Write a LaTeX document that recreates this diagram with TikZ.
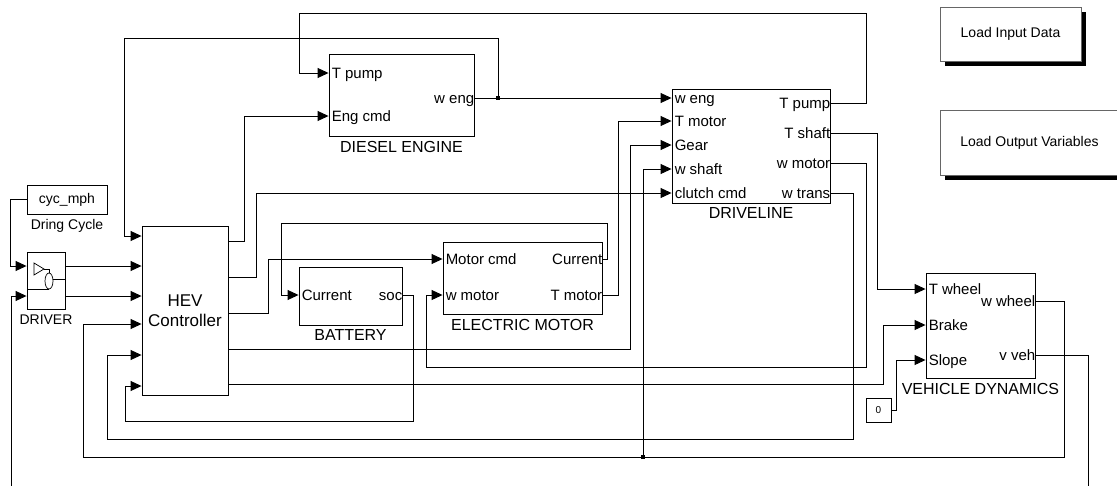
\documentclass[tikz,border=0pt]{standalone}
\usepackage{fontspec}
\setmainfont{Liberation Sans}
\usepackage{tikz}
\usetikzlibrary{positioning, arrows.meta}

\begin{document}
\begin{tikzpicture}[
  x=1pt, y=-1pt,
  block/.style={draw, line width=0.9pt, inner sep=0pt},
  caption/.style={inner sep=0pt, font=\fontsize{16}{18}\selectfont},
  inlab/.style={anchor=west, inner sep=0pt, xshift=3pt, text height=10.7pt,
    text depth=0pt, font=\fontsize{15}{17}\selectfont},
  outlab/.style={inlab, anchor=east, xshift=-3pt},
  wire/.style={line width=0.9pt},
  flow/.style={wire, -{Triangle[length=11pt, width=10pt]}},
  loadbox/.style={draw=black!60, fill=white, line width=0.6pt, inner sep=0pt,
    font=\fontsize{14}{16}\selectfont},
  tap/.style={fill, inner sep=0pt, minimum size=4pt},
]
  \useasboundingbox (0,0) rectangle (1117,485);

  % Drive cycle source and driver
  \node[block, minimum width=80pt, minimum height=29pt,
    font=\fontsize{14}{16}\selectfont] (cyc) at (67,199.5) {cyc\_mph};
  \node[caption, font=\fontsize{14}{16}\selectfont, below=5pt of cyc] (cyc-cap) {Dring Cycle};
  \node[block, minimum width=38pt, minimum height=57pt] (drv) at (46,280.5) {};
  \node[caption, font=\fontsize{14}{16}\selectfont, below=5pt of drv] (drv-cap) {DRIVER};
  \draw[line width=0.7pt] (34,263) -- (44,269) -- (34,275) -- cycle;
  \draw[line width=0.7pt] (44,269) -- (49,269) -- (49,273);
  \draw[line width=0.7pt] (49,281) ellipse (4 and 8);
  \draw[line width=0.7pt] (53,279) -- (65,279);
  \draw[line width=0.7pt] (27,289) -- (49,289);

  % Controller
  \node[block, minimum width=86pt, minimum height=169pt, align=center,
    font=\fontsize{17}{20}\selectfont] (hev) at (185,310.5) {HEV\\Controller};

  % Diesel engine
  \node[block, minimum width=145pt, minimum height=82pt] (eng) at (401.5,95) {};
  \node[caption, below=5pt of eng] (eng-cap) {DIESEL ENGINE};

  % Battery and electric motor
  \node[block, minimum width=103pt, minimum height=58pt] (bat) at (350.5,296) {};
  \node[caption, below=4pt of bat] (bat-cap) {BATTERY};
  \node[block, minimum width=159pt, minimum height=72pt] (mot) at (522.5,278) {};
  \node[caption, below=5pt of mot] (mot-cap) {ELECTRIC MOTOR};

  % Driveline
  \node[block, minimum width=158pt, minimum height=114pt] (dl) at (751,146) {};
  \node[caption, below=4pt of dl] (dl-cap) {DRIVELINE};

  % Vehicle dynamics
  \node[block, minimum width=109pt, minimum height=105pt] (veh) at (980.5,325.5) {};
  \node[caption, below=5pt of veh] (veh-cap) {VEHICLE DYNAMICS};
  \node[block, minimum width=25pt, minimum height=24pt,
    font=\fontsize{10}{12}\selectfont] (zero) at (878.5,410) {0};

  % Script buttons, solid shadow first
  \fill (945,12) rectangle (1086,66);
  \fill (945,115) rectangle (1124,180);
  \node[loadbox, minimum width=141pt, minimum height=54pt] (lin) at (1010.5,34) {Load Input Data};
  \node[loadbox, minimum width=179pt, minimum height=65pt] (lout) at (1029.5,142.5) {Load Output Variables};

  % Ports
  \coordinate (drv-in1) at (drv.west |- 0,266);  \coordinate (drv-in2) at (drv.west |- 0,296);
  \coordinate (drv-out1) at (drv.east |- 0,266); \coordinate (drv-out2) at (drv.east |- 0,296);
  \coordinate (hev-in1) at (hev.west |- 0,236);  \coordinate (hev-in2) at (hev.west |- 0,266);
  \coordinate (hev-in3) at (hev.west |- 0,296);  \coordinate (hev-in4) at (hev.west |- 0,324);
  \coordinate (hev-in5) at (hev.west |- 0,355);  \coordinate (hev-in6) at (hev.west |- 0,386);
  \coordinate (hev-out1) at (hev.east |- 0,241); \coordinate (hev-out2) at (hev.east |- 0,277);
  \coordinate (hev-out3) at (hev.east |- 0,313); \coordinate (hev-out4) at (hev.east |- 0,349);
  \coordinate (hev-out5) at (hev.east |- 0,384);
  \coordinate (eng-tp) at (eng.west |- 0,73);    \coordinate (eng-ec) at (eng.west |- 0,116);
  \coordinate (eng-we) at (eng.east |- 0,98);
  \coordinate (dl-we) at (dl.west |- 0,98);      \coordinate (dl-tm) at (dl.west |- 0,121);
  \coordinate (dl-ge) at (dl.west |- 0,145);     \coordinate (dl-ws) at (dl.west |- 0,169);
  \coordinate (dl-cc) at (dl.west |- 0,193);
  \coordinate (dl-tpo) at (dl.east |- 0,103);    \coordinate (dl-ts) at (dl.east |- 0,133);
  \coordinate (dl-wm) at (dl.east |- 0,163);     \coordinate (dl-wt) at (dl.east |- 0,193);
  \coordinate (mot-mc) at (mot.west |- 0,259);   \coordinate (mot-wm) at (mot.west |- 0,295);
  \coordinate (mot-cu) at (mot.east |- 0,259);   \coordinate (mot-tm) at (mot.east |- 0,295);
  \coordinate (bat-cu) at (bat.west |- 0,295);   \coordinate (bat-soc) at (bat.east |- 0,295);
  \coordinate (veh-tw) at (veh.west |- 0,289);   \coordinate (veh-br) at (veh.west |- 0,325);
  \coordinate (veh-sl) at (veh.west |- 0,360);
  \coordinate (veh-ww) at (veh.east |- 0,301);   \coordinate (veh-vv) at (veh.east |- 0,355);

  % Port labels
  \node[inlab] (eng-tp-l) at (eng-tp) {T pump};
  \node[inlab] (eng-ec-l) at (eng-ec) {Eng cmd};
  \node[outlab] (eng-we-l) at (eng-we) {w eng};
  \node[inlab] (dl-we-l) at (dl-we) {w eng};
  \node[inlab] (dl-tm-l) at (dl-tm) {T motor};
  \node[inlab] (dl-ge-l) at (dl-ge) {Gear};
  \node[inlab] (dl-ws-l) at (dl-ws) {w shaft};
  \node[inlab] (dl-cc-l) at (dl-cc) {clutch cmd};
  \node[outlab] (dl-tpo-l) at (dl-tpo) {T pump};
  \node[outlab] (dl-ts-l) at (dl-ts) {T shaft};
  \node[outlab] (dl-wm-l) at (dl-wm) {w motor};
  \node[outlab] (dl-wt-l) at (dl-wt) {w trans};
  \node[inlab] (mot-mc-l) at (mot-mc) {Motor cmd};
  \node[inlab] (mot-wm-l) at (mot-wm) {w motor};
  \node[outlab] (mot-cu-l) at (mot-cu) {Current};
  \node[outlab] (mot-tm-l) at (mot-tm) {T motor};
  \node[inlab] (bat-cu-l) at (bat-cu) {Current};
  \node[outlab] (bat-soc-l) at (bat-soc) {soc};
  \node[inlab] (veh-tw-l) at (veh-tw) {T wheel};
  \node[inlab] (veh-br-l) at (veh-br) {Brake};
  \node[inlab] (veh-sl-l) at (veh-sl) {Slope};
  \node[outlab] (veh-ww-l) at (veh-ww) {w wheel};
  \node[outlab] (veh-vv-l) at (veh-vv) {v veh};

  % Driver signals
  \draw[flow] (cyc.west) -- ++(-16,0) |- (drv-in1);
  \draw[flow] (veh-vv) -| (1088,495) -| (11,296) -- (drv-in2);
  \draw[flow] (drv-out1) -- (hev-in2);
  \draw[flow] (drv-out2) -- (hev-in3);

  % Engine speed and pump torque
  \node[tap] (tap1) at (498,98) {};
  \draw[flow] (eng-we) -- (dl-we);
  \draw[flow] (tap1.center) -- (498,38) -| (124,236) -- (hev-in1);
  \draw[flow] (dl-tpo) -- ++(36,0) |- (299,13) |- (eng-tp);

  % Controller commands
  \draw[flow] (hev-out1) -- ++(16,0) |- (eng-ec);
  \draw[flow] (hev-out2) -- ++(28,0) |- (dl-cc);
  \draw[flow] (hev-out3) -- ++(40,0) |- (mot-mc);
  \draw[flow] (hev-out4) -- (630,349) |- (dl-ge);
  \draw[flow] (hev-out5) -- (883,384) |- (veh-br);

  % Electric path
  \draw[flow] (mot-cu) -- (607,259) -- (607,223) -| (281,295) -- (bat-cu);
  \draw[flow] (mot-tm) -- (618,295) |- (dl-tm);
  \draw[flow] (bat-soc) -- (413,295) -- (413,421) -| (125,386) -- (hev-in6);

  % Driveline outputs
  \draw[flow] (dl-ts) -- (877,133) |- (veh-tw);
  \draw[flow] (dl-wm) -- (866,163) -- (866,367) -| (426,295) -- (mot-wm);
  \draw[flow] (dl-wt) -- (853,193) -- (853,439) -| (107,355) -- (hev-in5);

  % Wheel speed feedback
  \node[tap] (tap2) at (643,457) {};
  \draw[flow] (veh-ww) -- (1064,301) -- (1064,457) -| (83,324) -- (hev-in4);
  \draw[flow] (tap2.center) |- (dl-ws);
  \draw[flow] (zero.east) -- (896,410) |- (veh-sl);
\end{tikzpicture}
\end{document}
